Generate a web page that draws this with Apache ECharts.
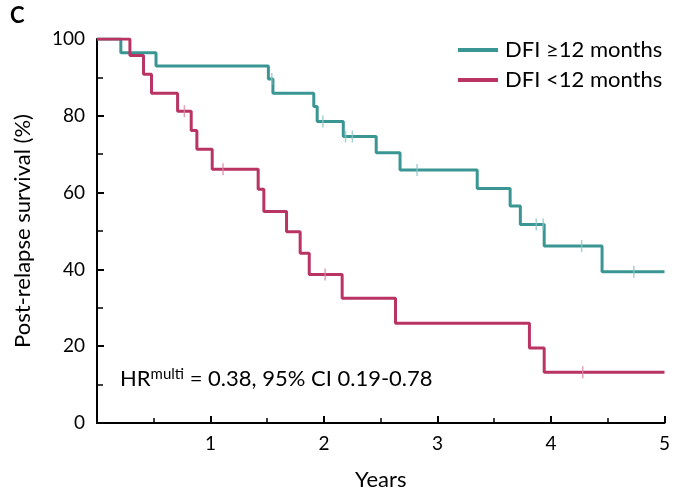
<!DOCTYPE html>
<html>
<head>
<meta charset="utf-8">
<script src="https://cdn.jsdelivr.net/npm/echarts@6/dist/echarts.min.js"></script>
<style>html,body{margin:0;padding:0;background:#fff}#c{width:673px;height:497px}</style>
</head>
<body>
<div id="c"></div>
<script>
// Kaplan-Meier step data (years, survival %)
var teal_t = [0, 0.21, 0.52, 1.51, 1.55, 1.91, 1.94, 2.17, 2.46, 2.67, 3.35, 3.64, 3.73, 3.94, 4.45, 5];
var teal_s = [100, 96.4, 93.0, 89.6, 85.9, 82.4, 78.5, 74.6, 70.4, 65.9, 61.1, 56.5, 51.7, 46.1, 39.4, 39.4];
var tealCens_t = [1.54, 1.99, 2.19, 2.25, 2.82, 3.87, 3.93, 4.27, 4.73];
var tealCens_s = [89.6, 78.5, 74.6, 74.6, 65.9, 51.7, 51.7, 46.1, 39.4];

var red_t = [0, 0.29, 0.41, 0.48, 0.71, 0.83, 0.88, 1.015, 1.42, 1.47, 1.67, 1.79, 1.87, 2.16, 2.63, 3.81, 3.94, 5];
var red_s = [100, 95.7, 90.8, 85.9, 81.2, 76.2, 71.3, 66.1, 60.9, 55.1, 49.8, 44.2, 38.7, 32.5, 26.0, 19.5, 13.2, 13.2];
var redCens_t = [0.77, 1.11, 2.01, 4.28];
var redCens_s = [81.2, 66.1, 38.7, 13.2];

var seriesNames = ['DFI \u226512 months', 'DFI <12 months'];
var xTickLabels = ['1', '2', '3', '4', '5'];
var yTickLabels = ['0', '20', '40', '60', '80', '100'];

function zip(a, b) { return a.map(function (v, i) { return [v, b[i]]; }); }

var TEAL = '#3a9692', RED = '#b93363';
var TEAL_L = '#8cc6c6', RED_L = '#d88aa6';
var FONT = 'Lato';

var chart = echarts.init(document.getElementById('c'), null, {renderer: 'canvas'});
chart.setOption({
  animation: false,
  textStyle: {fontFamily: FONT},
  grid: {left: 97, right: 8, top: 39, bottom: 74, containLabel: false},
  xAxis: {
    type: 'value', min: 0, max: 5, interval: 1,
    name: 'Years', nameLocation: 'middle', nameGap: 46,
    nameTextStyle: {fontSize: 22, color: '#000', fontFamily: FONT},
    axisLine: {show: true, lineStyle: {color: '#000', width: 2}},
    axisTick: {show: true, inside: true, length: 7, lineStyle: {color: '#000', width: 2}},
    minorTick: {show: true, splitNumber: 2, length: 5, lineStyle: {color: '#000', width: 1.5}},
    axisLabel: {
      margin: 11, fontSize: 19, color: '#000', fontFamily: FONT,
      formatter: function (v) { var s = String(v); return xTickLabels.indexOf(s) >= 0 ? s : ''; }
    },
    splitLine: {show: false}
  },
  yAxis: {
    type: 'value', min: 0, max: 100, interval: 20,
    name: 'Post-relapse survival (%)', nameLocation: 'middle', nameGap: 63,
    nameTextStyle: {fontSize: 22, color: '#000', fontFamily: FONT},
    axisLine: {show: true, lineStyle: {color: '#000', width: 2}},
    axisTick: {show: true, inside: true, length: 7, lineStyle: {color: '#000', width: 2}},
    minorTick: {show: true, splitNumber: 2, length: 6, lineStyle: {color: '#000', width: 1.5}},
    axisLabel: {
      margin: 12, fontSize: 19, color: '#000', fontFamily: FONT,
      formatter: function (v) { var s = String(v); return yTickLabels.indexOf(s) >= 0 ? s : ''; }
    },
    splitLine: {show: false}
  },
  legend: {
    data: seriesNames, orient: 'vertical', left: 453, top: 34,
    itemWidth: 40, itemHeight: 4, itemGap: 8, icon: 'rect',
    textStyle: {fontSize: 22, color: '#000', fontFamily: FONT, padding: [0, 0, 0, 2]}
  },
  graphic: [
    {type: 'text', left: 10, top: 5, style: {text: 'C', fontSize: 22, fontWeight: 'bold', fill: '#000', fontFamily: FONT}},
    {type: 'text', left: 120, top: 367, style: {
      text: 'HR{sup|multi} = 0.38, 95% CI 0.19-0.78', fontSize: 22, fill: '#000', fontFamily: FONT,
      rich: {sup: {fontSize: 15, verticalAlign: 'top', padding: [0, 0, 9, 0], fill: '#000', fontFamily: FONT}}
    }}
  ],
  series: [
    {name: seriesNames[0], type: 'line', step: 'end', data: zip(teal_t, teal_s), showSymbol: false, symbol: 'none',
     lineStyle: {color: TEAL, width: 3}, itemStyle: {color: TEAL}, z: 3},
    {name: seriesNames[1], type: 'line', step: 'end', data: zip(red_t, red_s), showSymbol: false, symbol: 'none',
     lineStyle: {color: RED, width: 3}, itemStyle: {color: RED}, z: 3},
    {name: 'tealCens', type: 'scatter', data: zip(tealCens_t, tealCens_s), symbol: 'rect', symbolSize: [1.5, 12],
     itemStyle: {color: TEAL_L}, z: 4},
    {name: 'redCens', type: 'scatter', data: zip(redCens_t, redCens_s), symbol: 'rect', symbolSize: [1.5, 12],
     itemStyle: {color: RED_L}, z: 4}
  ]
});
</script>
</body>
</html>
